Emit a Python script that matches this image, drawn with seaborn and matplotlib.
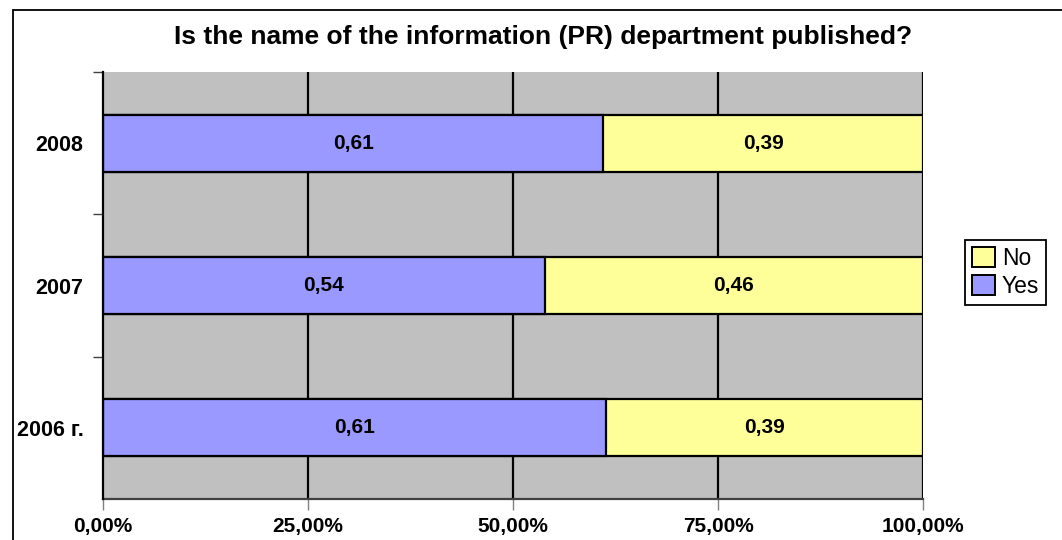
import numpy as np
import pandas as pd
import matplotlib
matplotlib.use("Agg")
import matplotlib.pyplot as plt
import matplotlib.patches as mpatches
import seaborn as sns

# data
years = ["2008", "2007", "2006 г."]
yes = [0.61, 0.539, 0.613]
no = [0.39, 0.461, 0.387]
yes_labels = ["0,61", "0,54", "0,61"]
no_labels = ["0,39", "0,46", "0,39"]
xticks = [0, 0.25, 0.5, 0.75, 1.0]
xtick_labels = ["0,00%", "25,00%", "50,00%", "75,00%", "100,00%"]

yes_color = "#9999FF"
no_color = "#FFFF99"

df = pd.DataFrame({"year": years, "yes": yes, "no": no})
df["total"] = df["yes"] + df["no"]

sns.set_style("white")
plt.rcParams["font.family"] = ["Liberation Sans", "DejaVu Sans"]
plt.rcParams["text.color"] = "black"
plt.rcParams["xtick.color"] = "black"
plt.rcParams["ytick.color"] = "black"

fig = plt.figure(figsize=(10.62, 5.40), dpi=100)
ax = fig.add_axes([103 / 1062, 1 - 499 / 540, 820 / 1062, 427 / 540])
ax.set_facecolor("#C0C0C0")

# stacked bars: full length in "No" colour, then "Yes" on top
sns.barplot(data=df, y="year", x="total", color=no_color, orient="h", width=0.4,
            edgecolor="black", linewidth=1.6, saturation=1, ax=ax, zorder=3)
sns.barplot(data=df, y="year", x="yes", color=yes_color, orient="h", width=0.4,
            edgecolor="black", linewidth=1.6, saturation=1, ax=ax, zorder=4)

for i, r in df.iterrows():
    ax.text(r["yes"] / 2, i, yes_labels[i], ha="center", va="center",
            fontsize=15, fontweight="bold", color="black", zorder=5)
    ax.text(r["yes"] + r["no"] / 2, i, no_labels[i], ha="center", va="center",
            fontsize=15, fontweight="bold", color="black", zorder=5)

ax.set_xlim(0, 1)
ax.set_ylim(2.5, -0.5)
ax.set_xlabel("")
ax.set_ylabel("")

# vertical grid
for v in [0.25, 0.5, 0.75, 1.0]:
    ax.axvline(v, color="black", lw=1.6, zorder=1)

ax.set_xticks(xticks)
ax.set_xticklabels(xtick_labels, fontsize=15, fontweight="bold")
ax.tick_params(axis="x", length=8, width=1, color="#808080", labelcolor="black",
               pad=5, direction="out", bottom=True)

ax.set_yticks(range(len(years)))
ax.set_yticklabels(years, fontsize=15.5, fontweight="bold")
ax.set_yticks([-0.5, 0.5, 1.5], minor=True)
ax.tick_params(axis="y", which="major", length=0, pad=14, labelcolor="black")
ax.tick_params(axis="y", which="minor", length=7, width=1, color="#404040", left=True)

ax.spines["top"].set_visible(False)
ax.spines["right"].set_visible(False)
ax.spines["left"].set_color("black")
ax.spines["left"].set_linewidth(1.6)
ax.spines["left"].set_zorder(6)
ax.spines["bottom"].set_color("#404040")
ax.spines["bottom"].set_linewidth(1.6)

fig.text(0.511, 1 - 37 / 540, "Is the name of the information (PR) department published?",
         ha="center", va="center", fontsize=19, fontweight="bold", color="black")

handles = [mpatches.Patch(facecolor=no_color, edgecolor="black", lw=1.4, label="No"),
           mpatches.Patch(facecolor=yes_color, edgecolor="black", lw=1.4, label="Yes")]
leg = fig.legend(handles=handles, loc="upper left", bbox_to_anchor=(965 / 1062, 1 - 240 / 540),
                 fontsize=16.5, handlelength=1.0, handleheight=1.0, handletextpad=0.3,
                 labelspacing=0.2, borderpad=0.3, borderaxespad=0, fancybox=False,
                 framealpha=1, edgecolor="black")
leg.get_frame().set_linewidth(1.3)
for t in leg.get_texts():
    t.set_color("black")

# outer chart border (runs off the right and bottom of the image)
fig.patches.append(mpatches.Rectangle((13 / 1062, -0.1), 1.2, 1 - 10 / 540 + 0.1,
                                      transform=fig.transFigure, fill=False,
                                      edgecolor="black", lw=1.3))

fig.savefig("out.png", dpi=100)
